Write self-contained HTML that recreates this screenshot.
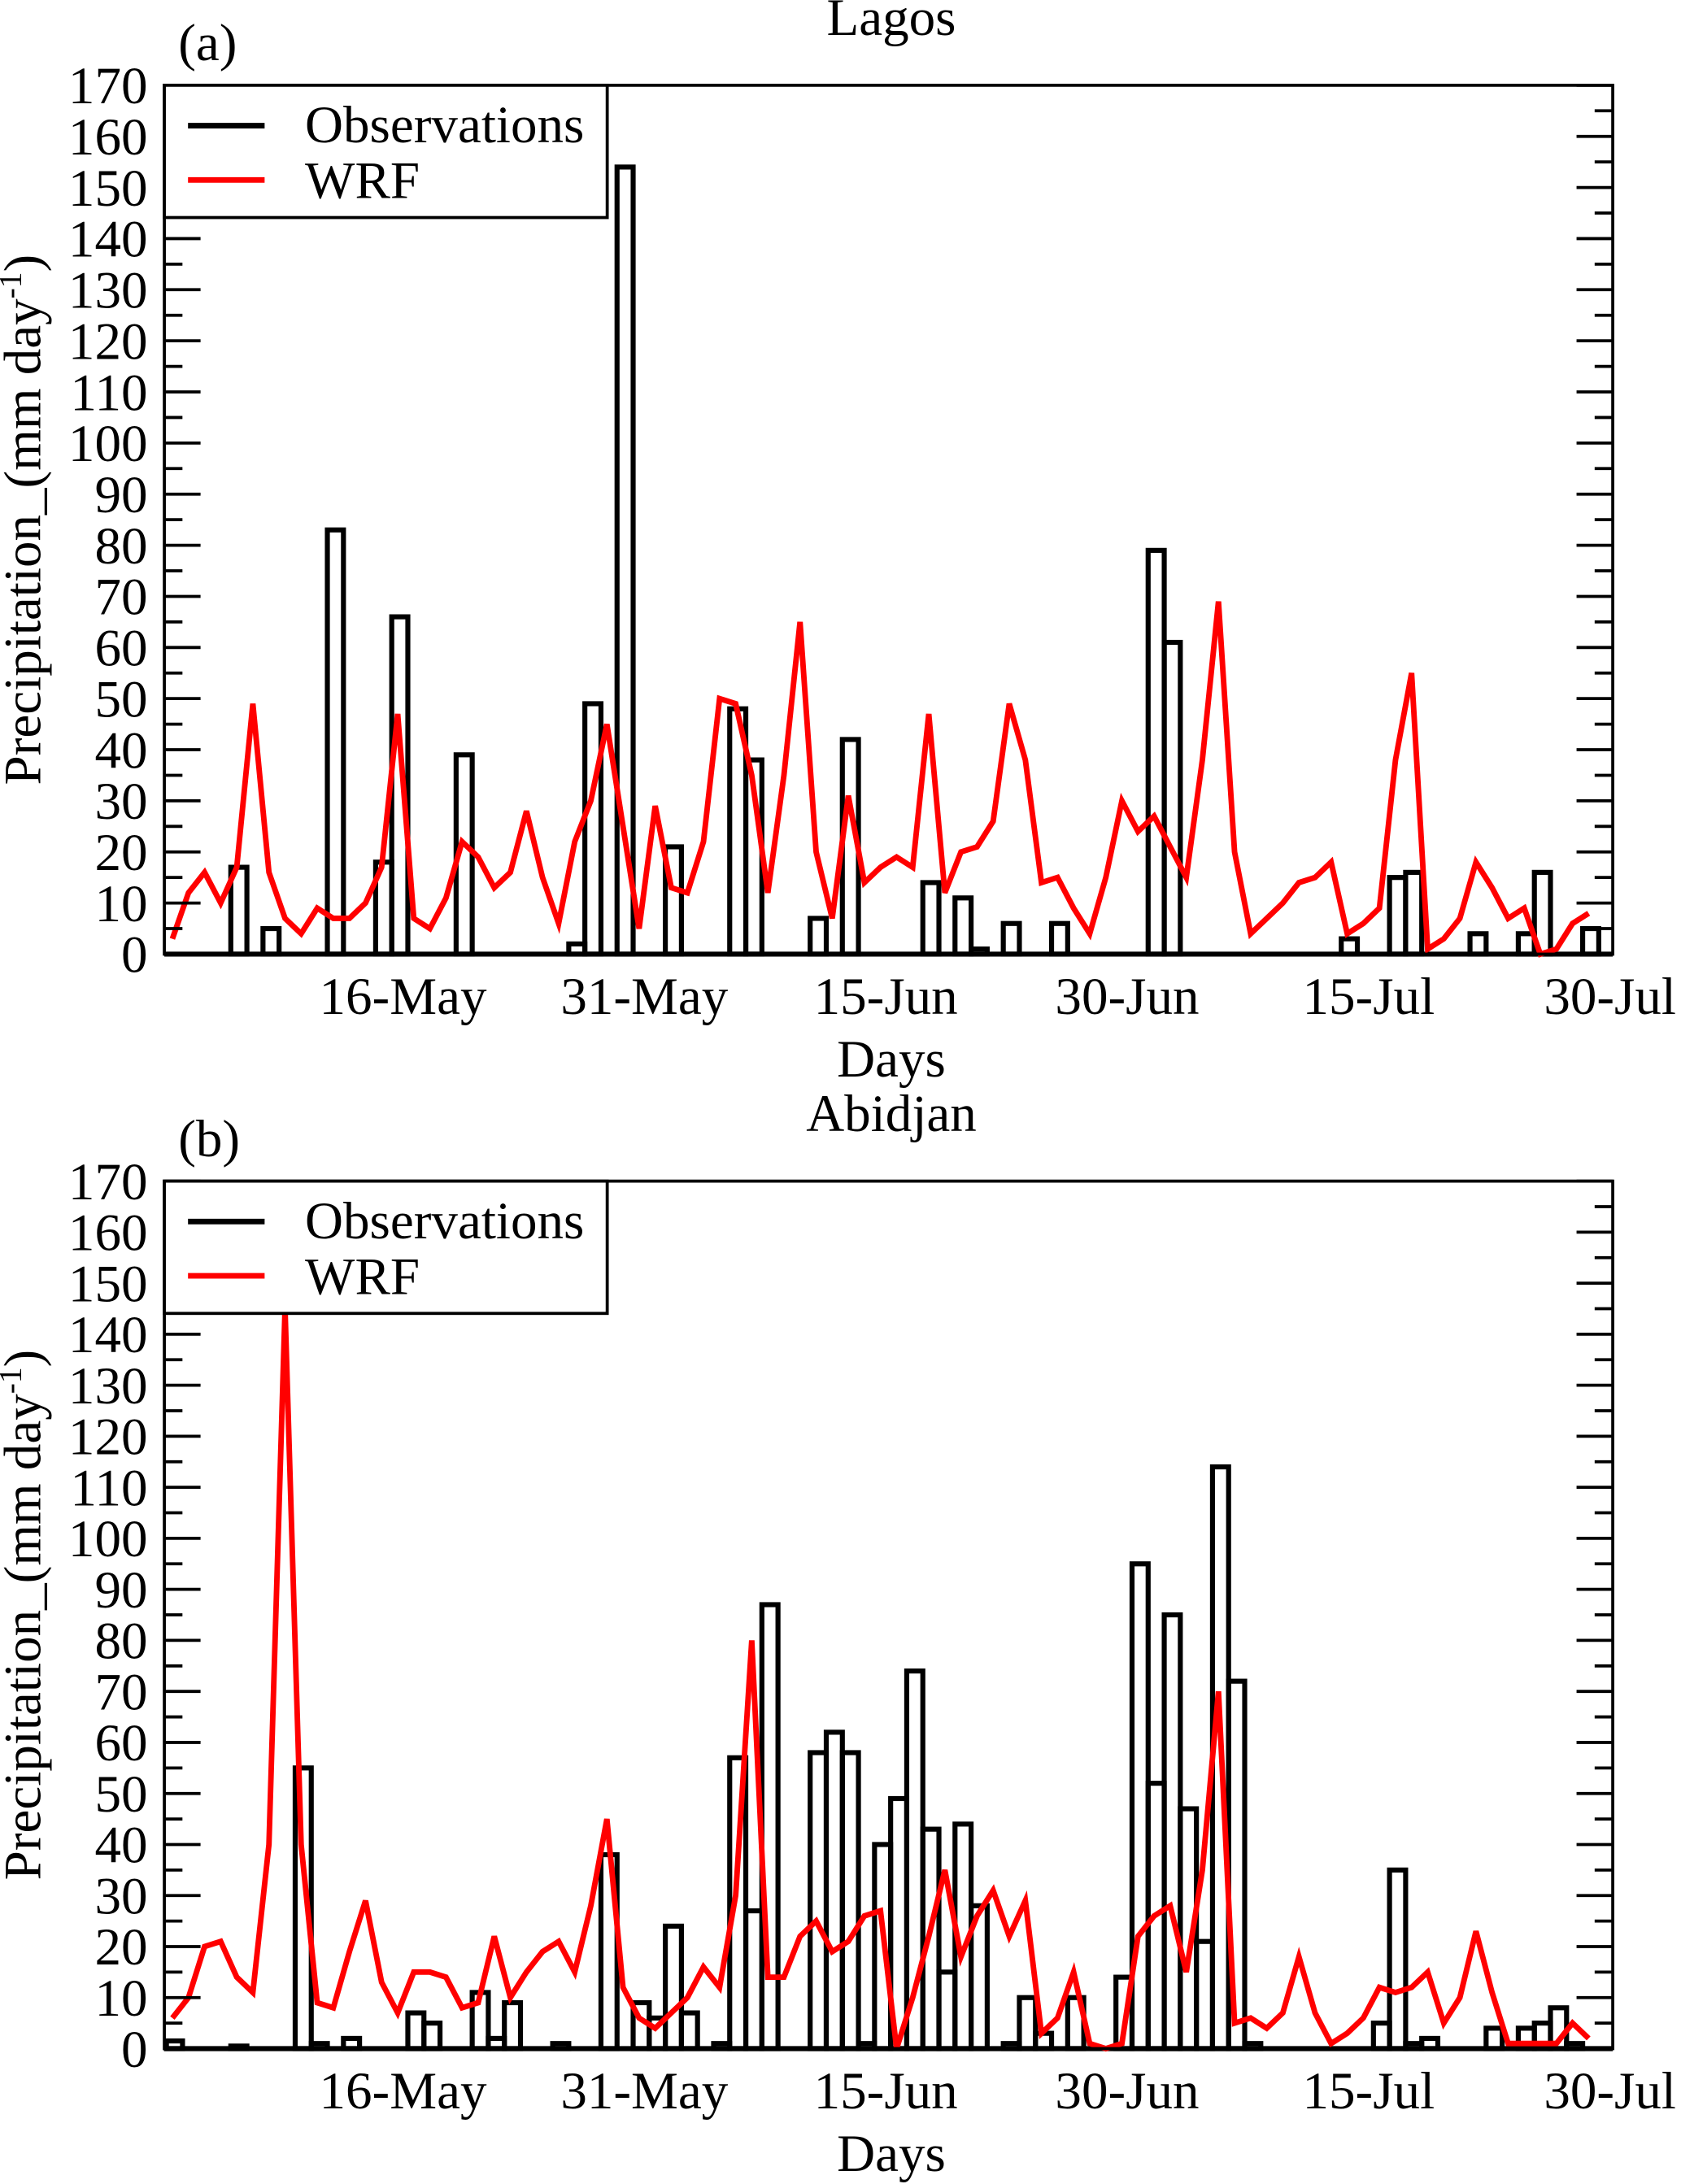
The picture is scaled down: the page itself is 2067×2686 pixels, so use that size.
<!DOCTYPE html>
<html><head><meta charset="utf-8"><style>html,body{margin:0;padding:0;background:#fff}svg{display:block}svg text{font-family:"Liberation Serif","DejaVu Serif",serif}</style></head>
<body>
<svg id="fig" width="2067" height="2686" viewBox="0 0 1207 1568" xmlns="http://www.w3.org/2000/svg"></svg>
<script>
const xTickLabels = ["16-May","31-May","15-Jun","30-Jun","15-Jul","30-Jul"];
const xTickDays = [15,30,45,60,75,90];
const yTicks = [0,10,20,30,40,50,60,70,80,90,100,110,120,130,140,150,160,170];
const obsDaysA = [4,6,10,13,14,18,25,26,28,31,35,36,40,42,47,49,50,52,55,61,62,73,76,77,81,84,85,88];
const obsValsA = [17,5,83,18,66,39,2,49,154,21,48,38,7,42,14,11,1,6,6,79,61,3,15,16,4,4,16,5];
const wrfA = [3,12,16,10,17,49,16,7,4,9,7,7,10,17,47,7,5,11,22,19,13,16,28,15,6,22,30,45,25,5,29,13,12,22,50,49,35,12,35,65,20,7,31,14,17,19,17,47,12,20,21,26,49,38,14,15,9,4,15,30,24,27,21,15,38,69,20,4,7,10,14,15,18,4,6,9,38,55,1,3,7,18,13,7,9,0,1,6,8];
const obsDaysB = [0,4,8,9,11,15,16,19,20,21,24,27,29,30,31,32,34,35,36,37,40,41,42,43,44,45,46,47,48,49,50,52,53,54,56,59,60,61,62,63,64,65,66,67,75,76,77,78,82,84,85,86,87];
const obsValsB = [1.5,0.5,55,1,2,7,5,11,2,9,1,38,9,6,24,7,1,57,27,87,58,62,58,1,40,49,74,43,15,44,28,1,10,3,10,14,95,52,85,47,21,114,72,1,5,35,1,2,4,4,5,8,1];
const wrfB = [6,10,20,21,14,11,40,145,40,9,8,19,29,13,7,15,15,14,8,9,22,10,15,19,21,15,28,45,12,6,4,7,10,16,12,30,80,14,14,22,25,19,21,26,27,0,10,22,35,18,26,31,22,29,3,6,15,1,0,1,22,26,28,15,35,70,5,6,4,7,18,7,1,3,6,12,11,12,15,5,10,23,11,1,1,1,1,5,2];

const NS="http://www.w3.org/2000/svg";
const svg=document.getElementById('fig');
const FF='"Liberation Serif", "DejaVu Serif", serif';
function mk(tag,attrs,parent){const e=document.createElementNS(NS,tag);for(const k in attrs)e.setAttribute(k,attrs[k]);if(tag==='text')e.style.fontFamily=FF;(parent||svg).appendChild(e);return e;}
const L=118,R=1158,DAYW=(R-L)/90,FS=38;
function panel(top,bottom,title,letter,obsD,obsV,wrf,pfx){
  const g=mk('g',{});
  
  
  const xs=d=>L+d*DAYW;
  const ys=v=>bottom-v*(bottom-top)/170;
  obsD.forEach((d,i)=>{
    const r=mk('rect',{x:xs(d)+1.5,y:ys(obsV[i]),width:DAYW,height:bottom-ys(obsV[i]),fill:'none',stroke:'#000','stroke-width':3.6},g);
    
    
  });
  mk('line',{x1:L,x2:R,y1:bottom,y2:bottom,stroke:'#000','stroke-width':3.6},g);
  const pts=wrf.map((v,d)=>xs(d+0.5)+','+ys(v)).join(' ');
  const pl=mk('polyline',{points:pts,fill:'none',stroke:'#ff0000','stroke-width':4,'stroke-linejoin':'miter'},g);
  
  
  const fr=mk('rect',{x:L,y:top,width:R-L,height:bottom-top,fill:'none',stroke:'#000','stroke-width':2.2},g);
  
  
  for(let v=0;v<=170;v+=5){
    const major=v%10===0,len=major?26:13;
    mk('line',{x1:L,x2:L+len,y1:ys(v),y2:ys(v),stroke:'#000','stroke-width':2.2},g);
    mk('line',{x1:R,x2:R-len,y1:ys(v),y2:ys(v),stroke:'#000','stroke-width':2.2},g);
  }
  yTicks.forEach(v=>{
    const t=mk('text',{x:L-12,y:ys(v)+13,'text-anchor':'end','font-size':FS},g);
    t.textContent=v;
    
    
  });
  xTickLabels.forEach((lab,i)=>{
    const t=mk('text',{x:xs(xTickDays[i])-2,y:bottom+43,'text-anchor':'middle','font-size':FS},g);
    t.textContent=lab;
    
    
  });
  const xt=mk('text',{x:640,y:bottom+88,'text-anchor':'middle','font-size':FS},g);
  xt.textContent='Days';
  
  
  const yt=mk('text',{x:0,y:0,'text-anchor':'middle','font-size':FS,transform:`translate(29,${(top+bottom)/2}) rotate(-90)`},g);
  yt.innerHTML='Precipitation_(mm day<tspan font-size="23" dy="-14">-1</tspan><tspan dy="14">)</tspan>';
  
  
  const tt=mk('text',{x:640,y:top-36,'text-anchor':'middle','font-size':FS},g);
  tt.textContent=title;
  
  
  const lt=mk('text',{x:128,y:top-18,'font-size':FS},g);
  lt.textContent=letter;
  
  
  const lg=mk('g',{},g);
  
  
  mk('rect',{x:L,y:top,width:318,height:95,fill:'#fff',stroke:'#000','stroke-width':2.2},lg);
  mk('line',{x1:135,x2:190,y1:top+29,y2:top+29,stroke:'#000','stroke-width':4},lg);
  mk('line',{x1:135,x2:190,y1:top+68,y2:top+68,stroke:'#ff0000','stroke-width':4},lg);
  const t1=mk('text',{x:219,y:top+41,'font-size':FS},lg);t1.textContent='Observations';
  
  
  const t2=mk('text',{x:219,y:top+81,'font-size':FS},lg);t2.textContent='WRF';
  
  
}
panel(61,685,'Lagos','(a)',obsDaysA,obsValsA,wrfA,'lagos');
panel(848,1471,'Abidjan','(b)',obsDaysB,obsValsB,wrfB,'abidjan');
</script>
</body></html>
